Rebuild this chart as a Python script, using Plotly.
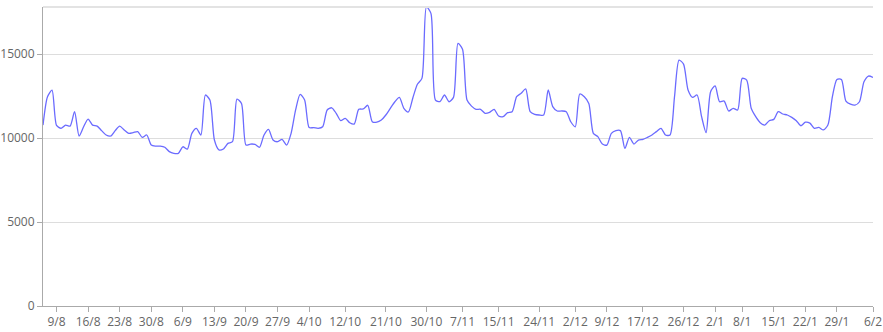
import datetime as dt
import plotly.graph_objects as go

start_date = dt.date(2021, 8, 6)
values = [
    10770, 12460, 12850, 10750, 10580, 10770, 10710, 11570, 10120, 10670,
    11130, 10770, 10710, 10440, 10180, 10120, 10440, 10710, 10480, 10280,
    10320, 10380, 10040, 10180, 9580, 9520, 9520, 9450, 9190, 9090,
    9090, 9480, 9345, 10280, 10580, 10180, 12560, 12260, 9880, 9290,
    9350, 9680, 9780, 12320, 12060, 9580, 9640, 9620, 9450, 10180,
    10510, 9880, 9780, 9920, 9580, 10280, 11670, 12600, 12260, 10620,
    10620, 10580, 10670, 11670, 11800, 11470, 11030, 11170, 10910, 10830,
    11710, 11730, 11950, 10970, 10940, 11070, 11370, 11770, 12160, 12420,
    11770, 11550, 12400, 13200, 13550, 17800, 17420, 12260, 12170, 12560,
    12160, 12420, 15630, 15280, 12260, 11900, 11710, 11710, 11470, 11530,
    11710, 11310, 11270, 11510, 11570, 12460, 12660, 12920, 11570, 11410,
    11370, 11370, 12860, 11870, 11610, 11610, 11570, 10970, 10670, 12620,
    12460, 12060, 10280, 10080, 9640, 9580, 10280, 10440, 10440, 9380,
    10040, 9640, 9880, 9920, 10040, 10180, 10380, 10580, 10180, 10180,
    12460, 14640, 14400, 12860, 12420, 12560, 11270, 10320, 12760, 13100,
    12160, 12200, 11610, 11770, 11670, 13550, 13450, 11770, 11270, 10910,
    10770, 11030, 11110, 11570, 11430, 11370, 11230, 11030, 10730, 10940,
    10890, 10580, 10630, 10480, 10770, 12460, 13490, 13490, 12200, 12020,
    11960, 12160, 13350, 13690, 13610,
]
dates = [start_date + dt.timedelta(days=i) for i in range(len(values))]

tick_dates = [
    "2021-08-09", "2021-08-16", "2021-08-23", "2021-08-30", "2021-09-06",
    "2021-09-13", "2021-09-20", "2021-09-27", "2021-10-04", "2021-10-12",
    "2021-10-21", "2021-10-30", "2021-11-07", "2021-11-15", "2021-11-24",
    "2021-12-02", "2021-12-09", "2021-12-17", "2021-12-26", "2022-01-02",
    "2022-01-08", "2022-01-15", "2022-01-22", "2022-01-29", "2022-02-06",
]
tick_labels = [
    "9/8", "16/8", "23/8", "30/8", "6/9", "13/9", "20/9", "27/9", "4/10",
    "12/10", "21/10", "30/10", "7/11", "15/11", "24/11", "2/12", "9/12",
    "17/12", "26/12", "2/1", "8/1", "15/1", "22/1", "29/1", "6/2",
]
y_ticks = [0, 5000, 10000, 15000]
y_tick_labels = ["0", "5000", "10000", "15000"]
y_max = 17800

fig = go.Figure(
    go.Scatter(
        x=dates, y=values, mode="lines",
        line=dict(color="#6b6bff", width=1.3, shape="spline", smoothing=0.7),
        hoverinfo="x+y",
    )
)

fig.update_layout(
    width=883, height=332,
    margin=dict(l=43, r=10, t=7, b=26),
    paper_bgcolor="white", plot_bgcolor="white",
    showlegend=False,
    font=dict(family="Open Sans, sans-serif", size=12, color="#666"),
)
fig.update_xaxes(
    type="date",
    range=[dates[0], dates[-1]],
    tickvals=tick_dates, ticktext=tick_labels,
    showgrid=False, zeroline=False,
    showline=True, linecolor="#aaa", linewidth=1,
    ticks="outside", ticklen=5, tickcolor="#aaa",
    tickfont=dict(size=12, color="#666"),
    automargin=False,
)
fig.update_yaxes(
    range=[0, y_max],
    tickvals=y_ticks, ticktext=y_tick_labels,
    showgrid=True, gridcolor="#ddd", gridwidth=1,
    zeroline=False,
    showline=True, linecolor="#aaa", linewidth=1,
    ticks="outside", ticklen=5, tickcolor="#aaa",
    tickfont=dict(size=12, color="#666"),
    automargin=False,
)
fig.add_shape(type="line", xref="paper", yref="paper", x0=0, x1=1, y0=1, y1=1,
              line=dict(color="#e3e3e3", width=2))

fig.write_html("out.html")
